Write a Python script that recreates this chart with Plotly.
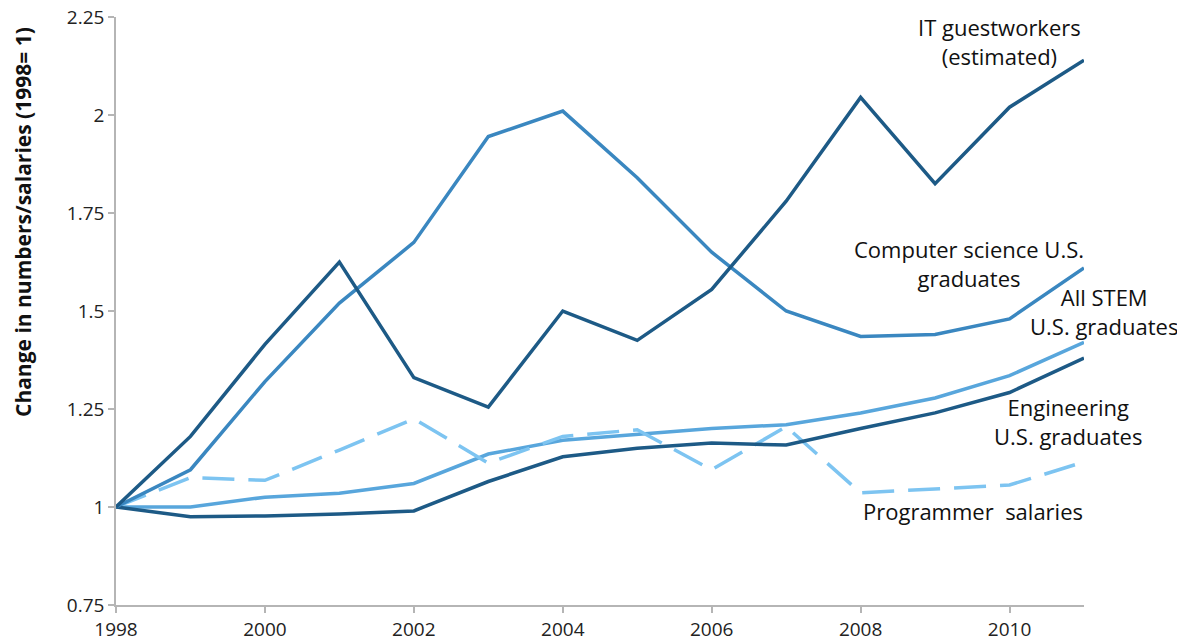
import plotly.graph_objects as go

years = list(range(1998, 2012))
it_guestworkers = [1.0, 1.18, 1.415, 1.625, 1.33, 1.255, 1.50, 1.425, 1.555, 1.78, 2.045, 1.825, 2.02, 2.14]
cs_graduates = [1.0, 1.095, 1.32, 1.52, 1.675, 1.945, 2.01, 1.84, 1.65, 1.50, 1.435, 1.44, 1.48, 1.61]
stem_graduates = [1.0, 1.0, 1.025, 1.035, 1.06, 1.135, 1.17, 1.185, 1.20, 1.21, 1.24, 1.278, 1.335, 1.42]
eng_graduates = [1.0, 0.975, 0.977, 0.982, 0.99, 1.065, 1.128, 1.15, 1.163, 1.158, 1.2, 1.24, 1.292, 1.38]
programmer_salaries = [1.0, 1.075, 1.068, 1.145, 1.225, 1.112, 1.18, 1.197, 1.095, 1.205, 1.036, 1.045, 1.056, 1.115]

x_ticks = [1998, 2000, 2002, 2004, 2006, 2008, 2010]
y_ticks = [0.75, 1, 1.25, 1.5, 1.75, 2, 2.25]
y_tick_labels = ["0.75", "1", "1.25", "1.5", "1.75", "2", "2.25"]

DARK = "#1d5a86"
MID = "#3a87c0"
LIGHT = "#58a6dc"
DASH = "#7dc4f1"

fig = go.Figure()
series = [
    (stem_graduates, LIGHT, "solid", "All STEM U.S. graduates"),
    (programmer_salaries, DASH, "32px,14px", "Programmer salaries"),
    (eng_graduates, DARK, "solid", "Engineering U.S. graduates"),
    (cs_graduates, MID, "solid", "Computer science U.S. graduates"),
    (it_guestworkers, DARK, "solid", "IT guestworkers (estimated)"),
]
for vals, col, dash, name in series:
    fig.add_trace(go.Scatter(x=years, y=vals, mode="lines", name=name,
                             line=dict(color=col, width=3.5, dash=dash)))

FONT = "Open Sans"
# plot area (screen px): left 116, right 1084, top 17, bottom 605
PL, PR, PT, PB = 116, 1084, 17, 605
PW, PH = PR - PL, PB - PT


def px2paper(px, py):
    return (px - PL) / PW, (PB - py) / PH


labels = [
    ("IT guestworkers<br>(estimated)", 999, 41),
    ("Computer science U.S.<br>graduates", 969, 263),
    ("All STEM<br>U.S. graduates", 1104, 311),
    ("Engineering<br>U.S. graduates", 1068, 421),
    ("Programmer  salaries", 973, 511),
]
for text, px, py in labels:
    ax, ay = px2paper(px, py)
    fig.add_annotation(text=text, x=ax, y=ay, xref="paper", yref="paper",
                       xanchor="center", yanchor="middle", showarrow=False, align="center",
                       font=dict(family=FONT, size=22, color="#111111"))

tx, ty = px2paper(23, 222)
fig.add_annotation(text="<b>Change in numbers/salaries (1998= 1)</b>", textangle=-90,
                   x=tx, y=ty, xref="paper", yref="paper",
                   xanchor="center", yanchor="middle", showarrow=False,
                   font=dict(family=FONT, size=21, color="#111111"))

OFF = 8  # page body margin
W, H = 1185 - OFF, 643 - OFF
fig.update_layout(
    width=W, height=H,
    margin=dict(l=PL - OFF, r=W - (PR - OFF), t=PT - OFF, b=H - (PB - OFF), autoexpand=False),
    paper_bgcolor="white", plot_bgcolor="white",
    showlegend=False,
    font=dict(family=FONT, size=19, color="#222222"),
)
fig.update_xaxes(range=[1998, 2011], tickvals=x_ticks, ticktext=[str(v) for v in x_ticks],
                 showgrid=False, zeroline=False, showline=True, linecolor="#b5b5b5", linewidth=1.5,
                 ticks="outside", ticklen=6, tickcolor="#b5b5b5", tickwidth=1.5,
                 ticklabeloverflow="allow",
                 tickfont=dict(family=FONT, size=19, color="#222222"))
fig.update_yaxes(range=[0.7499, 2.2501], tickvals=y_ticks, ticktext=y_tick_labels,
                 showgrid=False, zeroline=False, showline=True, linecolor="#b5b5b5", linewidth=1.5,
                 ticks="outside", ticklen=6, tickcolor="#b5b5b5", tickwidth=1.5,
                 ticklabeloverflow="allow",
                 tickfont=dict(family=FONT, size=19, color="#222222"))
fig.write_html("out.html")
